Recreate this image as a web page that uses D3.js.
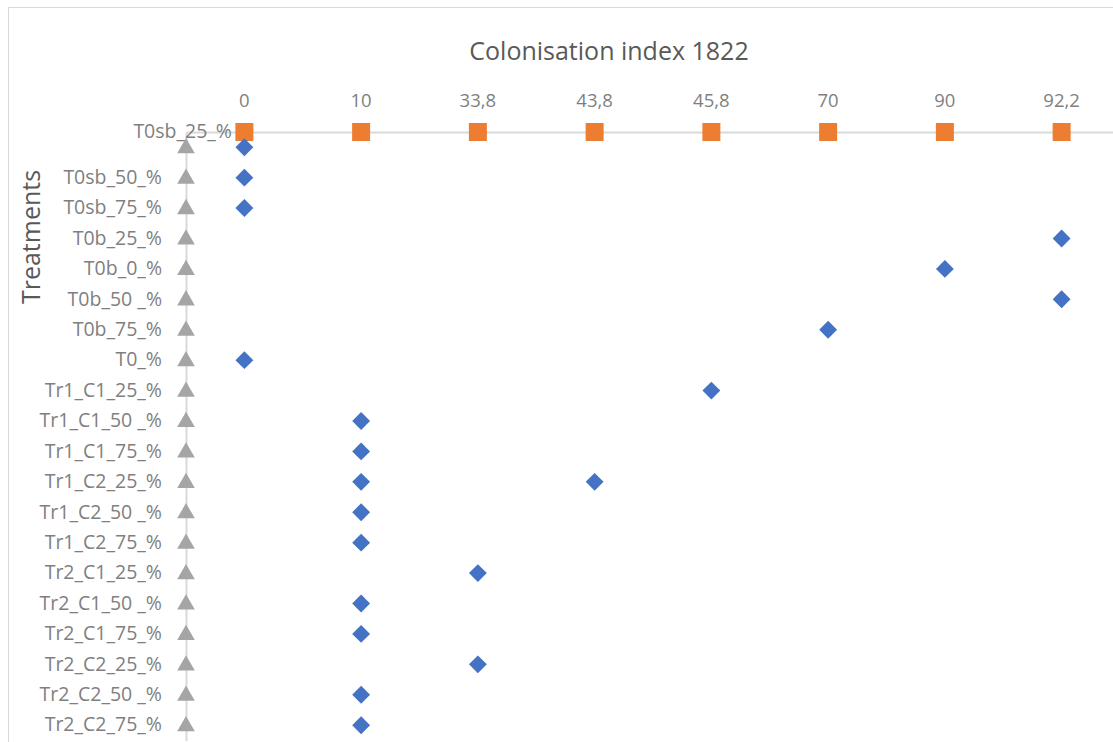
<!DOCTYPE html>
<html><head><meta charset="utf-8">
<script src="https://cdn.jsdelivr.net/npm/d3@7"></script>
<style>html,body{margin:0;padding:0;background:#fff;}svg{display:block;}</style>
</head><body><div id="chart"></div>
<script>
const indexCategories = ["0","10","33,8","43,8","45,8","70","90","92,2"];
const treatments = ["T0sb_25_%","T0sb_50_%","T0sb_75_%","T0b_25_%","T0b_0_%","T0b_50 _%","T0b_75_%","T0_%",
  "Tr1_C1_25_%","Tr1_C1_50 _%","Tr1_C1_75_%","Tr1_C2_25_%","Tr1_C2_50 _%","Tr1_C2_75_%",
  "Tr2_C1_25_%","Tr2_C1_50 _%","Tr2_C1_75_%","Tr2_C2_25_%","Tr2_C2_50 _%","Tr2_C2_75_%"];
// blue diamonds: treatment -> colonisation index category
const pointTreatments = ["T0sb_25_%","T0sb_50_%","T0sb_75_%","T0b_25_%","T0b_0_%","T0b_50 _%","T0b_75_%","T0_%",
  "Tr1_C1_25_%","Tr1_C1_50 _%","Tr1_C1_75_%","Tr1_C2_25_%","Tr1_C2_25_%","Tr1_C2_50 _%","Tr1_C2_75_%",
  "Tr2_C1_25_%","Tr2_C1_50 _%","Tr2_C1_75_%","Tr2_C2_25_%","Tr2_C2_50 _%","Tr2_C2_75_%"];
const pointIndex = ["0","0","0","92,2","90","92,2","70","0",
  "45,8","10","10","10","43,8","10","10",
  "33,8","10","10","33,8","10","10"];

const W = 1113, H = 742;
const svg = d3.select("#chart").append("svg").attr("width", W).attr("height", H);
const font = "'Open Sans', 'Noto Sans', sans-serif";

// chart border (cropped)
svg.append("path").attr("d", `M8.5,${H}V7.5H${W}`).attr("fill","none").attr("stroke","#d9d9d9").attr("stroke-width",1);

const x = d3.scaleBand().domain(indexCategories).range([186, 1120]).padding(0);
const y = d3.scaleBand().domain(treatments).range([132, 740.4]).padding(0);
const x0 = x.range()[0], y0 = y.range()[0];
const cx = d => x(d) + x.bandwidth()/2;
const cy = d => y(d) + y.bandwidth()/2;

// axes
const xAxis = d3.axisTop(x).tickSize(0).tickPadding(25);
const gx = svg.append("g").attr("transform", `translate(0,${y0})`).call(xAxis);
gx.select(".domain").attr("stroke","#d9d9d9").attr("stroke-width",2);
gx.selectAll("text").attr("fill","#7f7f7f").attr("font-family",font).attr("font-size",18.5);

const yAxis = d3.axisLeft(y).tickSize(0).tickPadding(24);
const gy = svg.append("g").attr("transform", `translate(${x0},0)`).call(yAxis);
gy.select(".domain").attr("stroke","#d9d9d9").attr("stroke-width",2);
gy.selectAll("text").attr("fill","#7f7f7f").attr("font-family",font).attr("font-size",19.5);
// first category label sits on the horizontal axis line, shifted right
gy.selectAll(".tick").filter((d,i)=>i===0).select("text")
  .attr("y", -y.bandwidth()/2).attr("x", 46);

// title
svg.append("text").attr("x", 609).attr("y", 60).attr("text-anchor","middle")
  .attr("font-family",font).attr("font-size",25).attr("fill","#595959").text("Colonisation index 1822");
svg.append("text").attr("transform","translate(40,237) rotate(-90)").attr("text-anchor","middle")
  .attr("font-family",font).attr("font-size",25).attr("fill","#595959").text("Treatments");

// gray triangles on vertical axis
svg.append("g").selectAll("path").data(treatments).join("path")
  .attr("d", d3.symbol(d3.symbolTriangle, 135)())
  .attr("transform", d => `translate(${x0},${cy(d)+1})`)
  .attr("fill","#a5a5a5");

// orange squares on horizontal axis
svg.append("g").selectAll("rect").data(indexCategories).join("rect")
  .attr("x", d => cx(d)-9).attr("y", y0-9).attr("width",18).attr("height",18)
  .attr("fill","#ed7d31");

// blue diamonds
svg.append("g").selectAll("path").data(pointTreatments.map((t,i)=>({t, v: pointIndex[i]}))).join("path")
  .attr("d", d3.symbol(d3.symbolSquare, 160)())
  .attr("transform", d => `translate(${cx(d.v)},${cy(d.t)}) rotate(45)`)
  .attr("fill","#4472c4");
</script></body></html>
